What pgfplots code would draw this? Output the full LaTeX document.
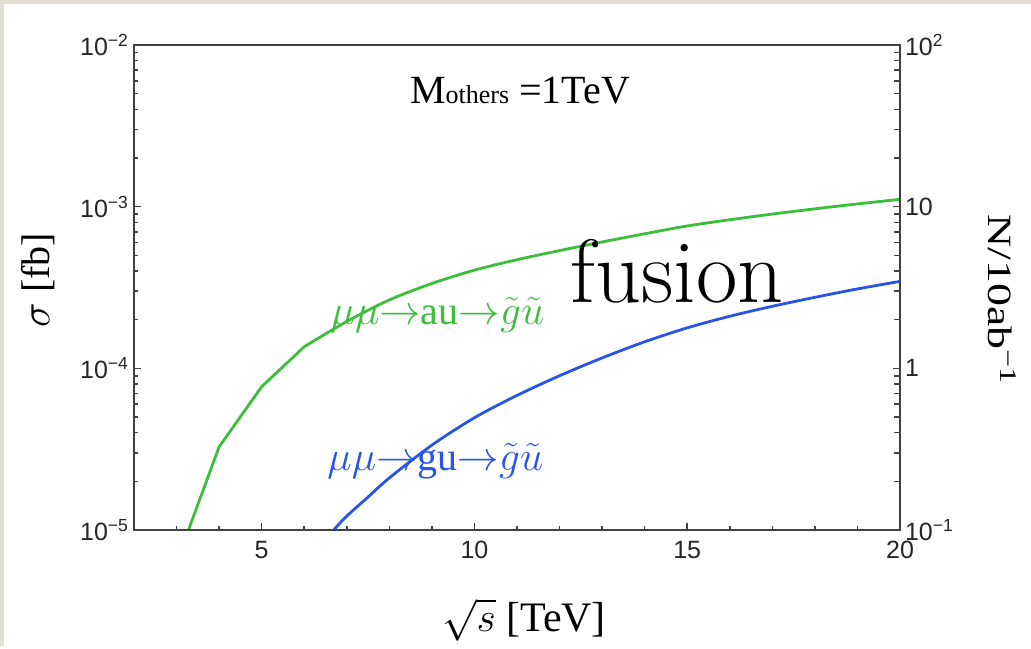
\documentclass[border=0pt]{standalone}
\usepackage{fontspec}
\setmainfont{Liberation Serif}
\newfontfamily\sansf{Liberation Sans}
\usepackage{pgfplots}
\pgfplotsset{compat=1.18}
\definecolor{cgreen}{RGB}{60,190,60}
\definecolor{cblue}{RGB}{40,85,230}
\definecolor{axgray}{RGB}{65,65,65}
\definecolor{framegray}{RGB}{226,222,214}

\pgfplotstableread{
x y
3.28 1e-5
4 3.27e-5
5 7.7e-5
6 1.36e-4
}\greenlow

\pgfplotstableread{
x y
6 1.36e-4
7 1.95e-4
8 2.65e-4
9 3.35e-4
10 4.05e-4
11 4.7e-4
12 5.35e-4
13 6.05e-4
14 6.8e-4
15 7.6e-4
16 8.3e-4
17 9.0e-4
18 9.7e-4
19 1.04e-3
20 1.11e-3
}\greenhigh

\pgfplotstableread{
x y
6.69 1e-5
7 1.22e-5
7.5 1.6e-5
8 2.1e-5
9 3.35e-5
10 4.95e-5
11 6.8e-5
12 9.0e-5
13 1.16e-4
14 1.46e-4
15 1.78e-4
16 2.1e-4
17 2.42e-4
18 2.75e-4
19 3.1e-4
20 3.45e-4
}\bluedata

\begin{document}
\begin{tikzpicture}
\fill[framegray] (0pt,0pt) rectangle (515.5pt,323pt);
\fill[white] (2pt,0pt) rectangle (515.5pt,321pt);
\begin{axis}[
  at={(67pt,58pt)}, anchor=south west,
  scale only axis, width=383pt, height=242.5pt,
  xmin=2, xmax=20, ymode=log, ymin=1e-5, ymax=1e-2,
  xtick={5,10,15,20}, xticklabels={5,10,15,20},
  minor xtick={3,4,6,7,8,9,11,12,13,14,16,17,18,19},
  ytick={1e-5,1e-4,1e-3,1e-2},
  yticklabels={10\textsuperscript{−5},10\textsuperscript{−4},10\textsuperscript{−3},10\textsuperscript{−2}},
  xtick pos=bottom, ytick pos=left,
  tick align=inside,
  major tick length=3.5pt, minor tick length=2pt,
  axis line style={draw=axgray, line width=1pt},
  every tick/.style={draw=axgray, line width=0.8pt},
  tick label style={font=\sansf\fontsize{12.5}{12.5}\selectfont, text=black!85},
  yticklabel style={xshift=1pt},
  xticklabel style={yshift=-2pt},
  clip=true,
]
\addplot[cgreen, line width=1.4pt] table[x=x,y=y] {\greenlow};
\addplot[cgreen, line width=1.4pt, smooth, tension=0.5] table[x=x,y=y] {\greenhigh};
\addplot[cblue, line width=1.4pt, smooth, tension=0.5] table[x=x,y=y] {\bluedata};
\node[text=cgreen, font=\fontsize{20}{20}\selectfont] at (axis cs:9.13,2.14e-4) {$\mu\mu{\rightarrow}\mathrm{au}{\rightarrow}\tilde{g}\tilde{u}$};
\node[text=cblue, font=\fontsize{20}{20}\selectfont] at (axis cs:9.08,2.67e-5) {$\mu\mu{\rightarrow}\mathrm{gu}{\rightarrow}\tilde{g}\tilde{u}$};
\node[font=\fontsize{20}{20}\selectfont] at (rel axis cs:0.504,0.907) {M{\fontsize{13}{13}\selectfont others} =1TeV};
\node[anchor=base, font=\fontfamily{lmr}\fontsize{45}{45}\selectfont] at (rel axis cs:0.709,0.47) {fusion};
\end{axis}
\begin{axis}[
  at={(67pt,58pt)}, anchor=south west,
  scale only axis, width=383pt, height=242.5pt,
  xmin=2, xmax=20, ymode=log, ymin=0.1, ymax=100,
  xtick=\empty,
  ytick={0.1,1,10,100},
  yticklabels={10\textsuperscript{−1},1,10,10\textsuperscript{2}},
  ytick pos=right, yticklabel pos=right,
  tick align=inside,
  major tick length=3.5pt,
  axis line style={draw=axgray, line width=1pt},
  every tick/.style={draw=axgray, line width=0.8pt},
  tick label style={font=\sansf\fontsize{12.5}{12.5}\selectfont, text=black!85},
  yticklabel style={xshift=-1pt},
]
\end{axis}
\node[font=\fontsize{21}{21}\selectfont] at (262pt,13pt) {$\sqrt{s}$ [TeV]};
\node[rotate=90, font=\fontsize{20}{20}\selectfont] at (19pt,183pt) {$\sigma$ [fb]};
\node[rotate=-90, xscale=1.35, font=\fontsize{17}{17}\selectfont] at (501pt,173pt) {N/10ab\textsuperscript{−1}};
\end{tikzpicture}
\end{document}
